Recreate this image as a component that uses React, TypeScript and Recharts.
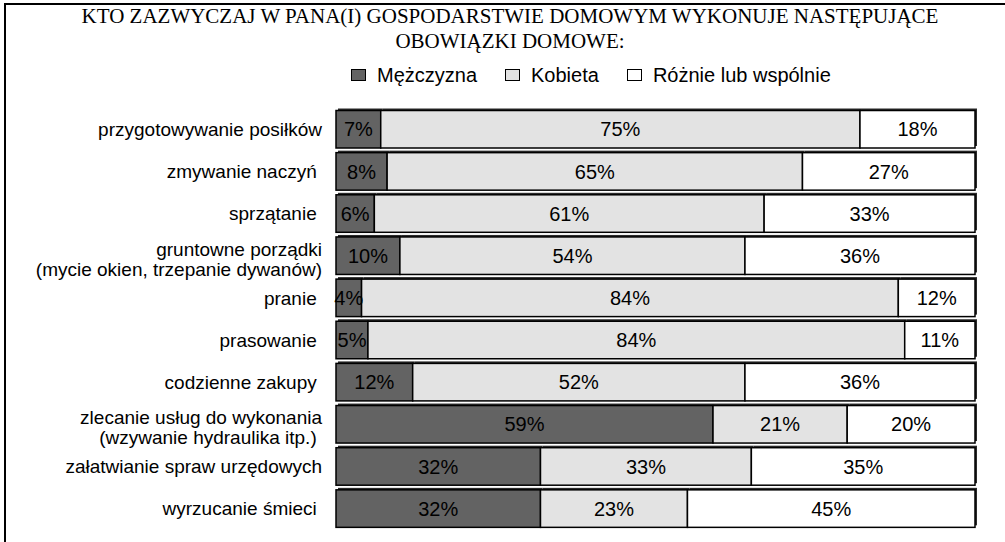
import React from "react";
import { BarChart, Bar, XAxis, YAxis, LabelList } from "recharts";

const categories = [
  "przygotowywanie posiłków",
  "zmywanie naczyń ",
  "sprzątanie ",
  "gruntowne porządki\n(mycie okien, trzepanie dywanów)",
  "pranie ",
  "prasowanie ",
  "codzienne zakupy ",
  "zlecanie usług do wykonania\n(wzywanie hydraulika itp.) ",
  "załatwianie spraw urzędowych",
  "wyrzucanie śmieci ",
];
const mezczyzna = [7, 8, 6, 10, 4, 5, 12, 59, 32, 32];
const kobieta = [75, 65, 61, 54, 84, 84, 52, 21, 33, 23];
const roznie = [18, 27, 33, 36, 12, 11, 36, 20, 35, 45];

const seriesNames = ["Mężczyzna", "Kobieta", "Różnie lub wspólnie"];
const seriesColors = ["#636363", "#e3e3e3", "#ffffff"];
const titleLines = [
  "KTO ZAZWYCZAJ W PANA(I) GOSPODARSTWIE DOMOWYM WYKONUJE NASTĘPUJĄCE",
  "OBOWIĄZKI DOMOWE:",
];

const data = categories.map((name, i) => ({
  name,
  m: mezczyzna[i],
  k: kobieta[i],
  r: roznie[i],
}));

const SANS = "'Liberation Sans', Arial, sans-serif";
const SERIF = "'Liberation Serif', 'Times New Roman', serif";

const BarShape = (props: any) => {
  const { x, y, width, height, fill } = props;
  if (width == null || width <= 0) return null;
  return (
    <g>
      <rect x={x + 2} y={y - 2} width={width} height={height} fill="#2a2a2a" />
      <rect x={x} y={y} width={width} height={height} fill={fill} stroke="#000" strokeWidth={1.5} />
    </g>
  );
};

const CategoryTick = (props: any) => {
  const { x, y, payload } = props;
  const lines = String(payload.value).split("\n");
  const offsets = lines.length === 1 ? [0] : [-7, 13];
  return (
    <g>
      {lines.map((l, i) => (
        <text
          key={i}
          x={x}
          y={y + offsets[i]}
          textAnchor="end"
          dominantBaseline="central"
          fontFamily={SANS}
          fontSize={19}
          fill="#000"
          style={{ whiteSpace: "pre" }}
        >
          {l}
        </text>
      ))}
    </g>
  );
};

const LegendBlock = () => (
  <div
    style={{
      position: "absolute",
      left: 351,
      top: 63,
      display: "flex",
      alignItems: "center",
      fontFamily: SANS,
      fontSize: 20,
      lineHeight: "24px",
      color: "#000",
      whiteSpace: "nowrap",
    }}
  >
    {seriesNames.map((n, i) => (
      <div key={n} style={{ display: "flex", alignItems: "center", marginRight: 28 }}>
        <div
          style={{
            width: 13,
            height: 10,
            background: seriesColors[i],
            border: "1px solid #000",
            marginRight: 11,
          }}
        />
        <span>{n}</span>
      </div>
    ))}
  </div>
);

export default function App() {
  return (
    <div
      style={{
        position: "fixed",
        left: 0,
        top: 0,
        width: 1005,
        height: 542,
        overflow: "hidden",
        background: "#fff",
      }}
    >
      <div
        style={{
          position: "absolute",
          left: 4,
          top: 3,
          width: 1200,
          height: 800,
          borderLeft: "2px solid #000",
          borderTop: "2px solid #000",
        }}
      />
      <div
        style={{
          position: "absolute",
          left: 10,
          top: 4,
          width: 1000,
          textAlign: "center",
          fontFamily: SERIF,
          fontSize: 21,
          lineHeight: "25px",
          color: "#000",
          whiteSpace: "nowrap",
        }}
      >
        {titleLines.map((t) => (
          <div key={t}>{t}</div>
        ))}
      </div>
      <LegendBlock />
      <div style={{ position: "absolute", left: 0, top: 0 }}>
        <BarChart
          width={1005}
          height={542}
          data={data}
          layout="vertical"
          margin={{ top: 108.5, right: 30, bottom: 12, left: 0 }}
          barSize={37.5}
        >
          <XAxis type="number" domain={[0, 100]} hide />
          <YAxis
            type="category"
            dataKey="name"
            width={336}
            axisLine={false}
            tickLine={false}
            tickSize={0}
            tickMargin={14}
            tick={<CategoryTick />}
            interval={0}
          />
          {(["m", "k", "r"] as const).map((key, i) => (
            <Bar
              key={key}
              dataKey={key}
              name={seriesNames[i]}
              stackId="a"
              fill={seriesColors[i]}
              shape={<BarShape />}
              isAnimationActive={false}
            >
              <LabelList
                dataKey={key}
                position="center"
                formatter={(v: any) => `${v}%`}
                fill="#000"
                fontFamily={SANS}
                fontSize={20}
              />
            </Bar>
          ))}
        </BarChart>
      </div>
    </div>
  );
}
